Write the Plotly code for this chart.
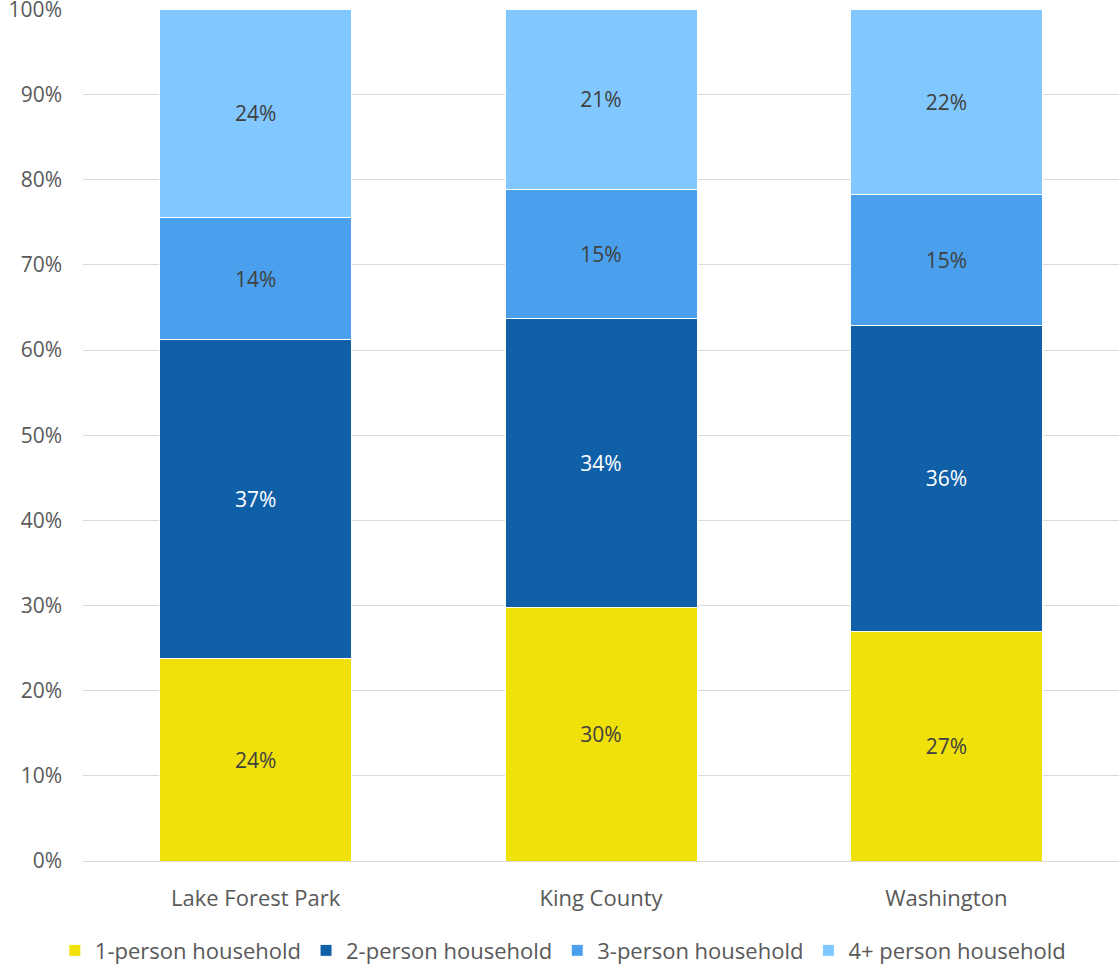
import plotly.graph_objects as go

categories = ["Lake Forest Park", "King County", "Washington"]
series_names = ["1-person household", "2-person household", "3-person household", "4+ person household"]
one_person = [0.238, 0.298, 0.270]
two_person = [0.374, 0.339, 0.359]
three_person = [0.144, 0.152, 0.154]
four_plus = [0.244, 0.211, 0.217]
colors = ["#F0E10A", "#1060A8", "#4AA0EC", "#80C8FF"]
text_colors = ["#404040", "#FFFFFF", "#404040", "#404040"]

FONT = "Open Sans, Noto Sans, sans-serif"
fig = go.Figure()
for name, vals, col, tc in zip(series_names, [one_person, two_person, three_person, four_plus], colors, text_colors):
    fig.add_trace(go.Bar(
        x=categories, y=vals, name=name,
        marker=dict(color=col, line=dict(color="white", width=1)),
        text=[f"{round(v*100)}%" for v in vals],
        textposition="inside", insidetextanchor="middle",
        textfont=dict(color=tc, size=21, family=FONT),
        hoverinfo="skip",
    ))

fig.update_layout(
    barmode="stack", bargap=0.444,
    width=1119, height=966,
    margin=dict(l=83, r=0, t=9, b=105),
    plot_bgcolor="white", paper_bgcolor="white",
    font=dict(family=FONT, size=21, color="#595959"),
    uniformtext=dict(mode="show", minsize=21),
    legend=dict(orientation="h", xref="container", x=0.503, xanchor="center",
                yref="container", y=0.016, yanchor="middle",
                font=dict(size=22, color="#595959"), itemwidth=30, traceorder="normal"),
    showlegend=True,
)
fig.update_yaxes(range=[0, 1.0005], tickformat=".0%", tickvals=[i / 10 for i in range(11)],
                 showgrid=True, gridcolor="#D9D9D9", gridwidth=1, zeroline=False,
                 showline=False, ticklabelstandoff=20, ticklabeloverflow="allow",
                 automargin=False, tickfont=dict(size=21, color="#595959"))
fig.update_xaxes(showline=True, linecolor="#D9D9D9", linewidth=1, automargin=False,
                 ticklabelstandoff=18, tickfont=dict(size=22, color="#595959"))
fig.write_html("out.html")
